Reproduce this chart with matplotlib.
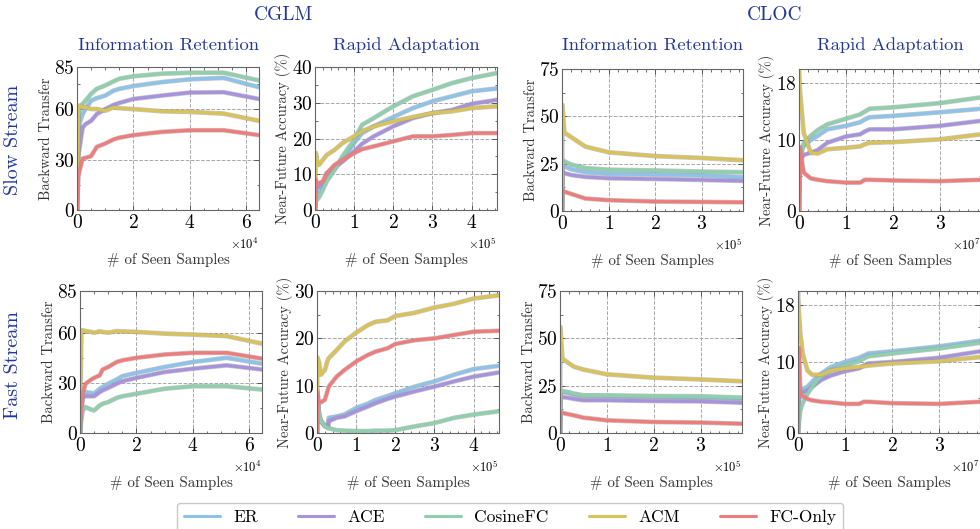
import matplotlib
matplotlib.use('Agg')
import matplotlib.pyplot as plt
import matplotlib.patheffects as pe
from matplotlib.ticker import AutoMinorLocator, FixedLocator, MultipleLocator

plt.rcParams['font.family'] = ['cmr10', 'DejaVu Serif']
plt.rcParams['mathtext.fontset'] = 'cm'
plt.rcParams['axes.formatter.use_mathtext'] = True
plt.rcParams['axes.unicode_minus'] = False

methods = ['ER', 'ACE', 'CosineFC', 'ACM', 'FC-Only']
colors = ['#8ec3e9', '#a793dc', '#8fcfad', '#d8c25a', '#ee7c7c']

# ---- CGLM slow stream, information retention (x in 1e4 samples)
x_cglm_slow_ir = [0, 0.05, 0.1, 0.2, 0.3, 0.5, 0.7, 1.0, 1.3, 1.5, 2.0, 3.0, 4.0, 5.2, 6.45]
cglm_slow_ir = {
    'ER':       [0, 45, 52, 57, 60, 65, 66.5, 68, 71, 72, 73.7, 76, 77.7, 78.5, 73],
    'ACE':      [0, 32, 38, 49, 51, 53, 57, 60, 62.5, 63.6, 66, 68, 69.8, 70, 66],
    'CosineFC': [0, 55, 61, 63, 65, 69, 72, 74, 76.5, 78, 79.5, 81, 81.6, 81.6, 77],
    'ACM':      [0, 62, 62, 61, 61, 60, 60, 59, 61, 60.5, 60, 58.7, 58.3, 57.3, 53],
    'FC-Only':  [0, 20, 24, 30.6, 31, 32, 37.5, 39.5, 42, 43, 44.5, 46.4, 47.4, 47.4, 44.5],
}

# ---- CGLM slow stream, rapid adaptation (x in 1e5 samples)
x_cglm_slow_ra = [0, 0.02, 0.05, 0.1, 0.2, 0.3, 0.5, 0.7, 1.0, 1.2, 1.5, 2.0, 2.5, 3.0, 3.5, 4.0, 4.65]
cglm_slow_ra = {
    'ER':       [0, 6, 6, 5, 7, 10.3, 11.5, 14, 18.7, 21.5, 23.4, 26, 28.5, 30.4, 31.8, 33.2, 34],
    'ACE':      [0, 6.5, 6.5, 6.5, 7.5, 9.8, 12, 13.5, 16.4, 18.5, 20.6, 23.4, 25.7, 27.1, 28, 29.7, 30.8],
    'CosineFC': [0, 3, 2.8, 3.5, 5.6, 8, 11.2, 15, 19.6, 23.8, 25.7, 29, 31.8, 33.6, 35.5, 36.9, 38.3],
    'ACM':      [0, 16, 14, 12.6, 14, 15.4, 16.8, 18.7, 20.6, 22, 23.4, 24.8, 26, 27.1, 27.6, 28.5, 29],
    'FC-Only':  [0, 8.5, 7.5, 7.5, 8, 10.3, 12.6, 14, 15.9, 17, 17.8, 19.2, 20.6, 20.6, 21, 21.5, 21.5],
}

# ---- CLOC slow stream, information retention (x in 1e5 samples)
x_cloc_slow_ir = [0, 0.01, 0.05, 0.2, 0.5, 1.0, 2.0, 3.0, 3.88]
cloc_slow_ir = {
    'ER':       [0, 25, 23.6, 22, 20.5, 19.6, 19.3, 18.8, 17.9],
    'ACE':      [0, 21, 20, 19, 18, 17.3, 16.9, 16.4, 15.9],
    'CosineFC': [0, 27, 26.2, 24.5, 22.7, 21.8, 21.4, 20.8, 20.5],
    'ACM':      [0, 56, 41.4, 39, 34, 31, 29, 28, 26.8],
    'FC-Only':  [0, 11, 10.2, 9, 6.6, 5.7, 5, 4.8, 4.6],
}

# ---- CLOC slow stream, rapid adaptation (x in 1e7 samples)
x_cloc_slow_ra = [0, 0.02, 0.1, 0.25, 0.4, 0.6, 1.0, 1.3, 1.4, 1.5, 2.0, 3.0, 3.87]
cloc_slow_ra = {
    'ER':       [0, 8, 9.2, 10, 10.6, 11.5, 12, 12.5, 12.9, 13.2, 13.4, 13.9, 14.4],
    'ACE':      [0, 7, 7.9, 8.2, 8.6, 9.6, 10.5, 10.8, 11.2, 11.5, 11.5, 12, 12.7],
    'CosineFC': [0, 7, 9.6, 10.6, 11.4, 12.2, 13, 13.6, 14, 14.4, 14.6, 15.2, 16],
    'ACM':      [20, 17, 11, 8.2, 8.1, 8.7, 8.9, 9.1, 9.4, 9.6, 9.7, 10.1, 10.8],
    'FC-Only':  [0, 9, 5.4, 4.6, 4.4, 4.2, 4.0, 4.0, 4.4, 4.4, 4.3, 4.2, 4.4],
}

# ---- CGLM fast stream, information retention (x in 1e4 samples)
x_cglm_fast_ir = [0, 0.05, 0.1, 0.2, 0.4, 0.5, 0.7, 0.8, 1.0, 1.3, 1.5, 2.0, 3.0, 4.0, 5.2, 6.45]
cglm_fast_ir = {
    'ER':       [0, 15, 21.5, 24.5, 24, 23.5, 26.5, 27.5, 29.5, 32, 34, 36, 39.5, 42.5, 45, 41.5],
    'ACE':      [0, 14, 21.5, 22, 22, 22, 24.5, 25.5, 27, 29.5, 31, 33, 36.5, 38.5, 40.5, 38],
    'CosineFC': [0, 9, 13.5, 15.5, 14, 13.5, 16.5, 17.5, 18.5, 21, 22, 23.5, 26.5, 28, 28, 26],
    'ACM':      [0, 61.5, 61.5, 61, 60.5, 60, 60.9, 60.5, 60, 61, 60.8, 60.5, 59.5, 58.9, 58, 53.5],
    'FC-Only':  [0, 18, 24, 29.5, 32, 33, 34.5, 38, 39.5, 42.5, 43.5, 45, 47, 48, 48, 44.5],
}

# ---- CGLM fast stream, rapid adaptation (x in 1e5 samples)
x_cglm_fast_ra = [0, 0.01, 0.05, 0.1, 0.2, 0.28, 0.3, 0.5, 0.7, 1.0, 1.3, 1.5, 1.8, 2.0, 2.5, 3.0, 3.5, 4.0, 4.65]
cglm_fast_ra = {
    'ER':       [0, 8, 4, 2.5, 1.5, 1.2, 3.2, 3.5, 3.9, 5.3, 6.2, 7, 7.8, 8.4, 9.8, 10.9, 12.3, 13.5, 14.2],
    'ACE':      [0, 8, 4, 2.5, 1.5, 1.2, 2.5, 3.2, 3.5, 4.6, 5.6, 6.3, 7.2, 7.7, 8.8, 9.8, 10.9, 11.9, 12.8],
    'CosineFC': [0, 9, 4, 2.5, 1.5, 1.0, 1.0, 0.6, 0.5, 0.4, 0.4, 0.5, 0.5, 0.6, 1.4, 2.1, 3.2, 3.9, 4.6],
    'ACM':      [0, 16, 15, 12.3, 13.3, 15.5, 15.8, 17.5, 19.3, 21.2, 22.8, 23.5, 23.8, 24.7, 25.4, 26.5, 27.3, 28.4, 29.1],
    'FC-Only':  [0, 8.4, 6.3, 6.5, 7, 9.2, 9.8, 11.9, 13.3, 15.1, 16.5, 17.2, 17.9, 18.8, 19.6, 20, 20.7, 21.4, 21.6],
}

# ---- CLOC fast stream, information retention (x in 1e5 samples)
x_cloc_fast_ir = [0, 0.01, 0.05, 0.2, 0.3, 0.5, 1.0, 2.0, 3.0, 3.88]
cloc_fast_ir = {
    'ER':       [0, 22, 21.7, 21, 20.3, 19.5, 19.4, 19, 18.7, 18.1],
    'ACE':      [0, 19.5, 19, 18.5, 18, 17.3, 17.3, 16.9, 16.7, 16],
    'CosineFC': [0, 22.5, 22.2, 21.5, 20.8, 19.9, 19.9, 19.5, 19.4, 18.7],
    'ACM':      [0, 56, 39.3, 36.6, 35, 33.5, 31, 29.2, 28.3, 27.3],
    'FC-Only':  [0, 11, 10.6, 9.8, 9.3, 8.1, 6.7, 5.8, 5.5, 4.9],
}

# ---- CLOC fast stream, rapid adaptation (x in 1e7 samples)
x_cloc_fast_ra = [0, 0.02, 0.05, 0.1, 0.2, 0.3, 0.4, 0.5, 0.7, 1.0, 1.3, 1.4, 1.5, 2.0, 3.0, 3.87]
cloc_fast_ra = {
    'ER':       [0, 5.5, 6, 6.2, 6.5, 7.2, 7.9, 8.4, 9.3, 10, 10.6, 10.9, 11.2, 11.5, 12.2, 13],
    'ACE':      [0, 5, 5.5, 5.7, 6, 6.5, 7, 7.5, 8.1, 8.7, 9.1, 9.5, 9.8, 10, 10.6, 11.5],
    'CosineFC': [0, 1.5, 3.2, 4.2, 5.5, 6.5, 7.4, 8, 8.8, 9.5, 10.1, 10.5, 10.8, 11.2, 11.9, 12.7],
    'ACM':      [20, 17, 14, 11.2, 8.8, 8.2, 8.2, 8.2, 8.8, 9.1, 9.3, 9.4, 9.5, 9.8, 10.1, 10.7],
    'FC-Only':  [0, 12, 5.5, 5.2, 4.8, 4.6, 4.5, 4.4, 4.3, 4.1, 4.1, 4.4, 4.4, 4.2, 4.1, 4.4],
}

# panel specs: x data, series, x scale, xmax, x tick step, ylim, yticks, ylabel
IR_LABEL = 'Backward Transfer'
RA_LABEL = 'Near-Future Accuracy (%)'
panels = [
    (x_cglm_slow_ir, cglm_slow_ir, 1e4, 6.45, 2, 85, [0, 30, 60, 85], IR_LABEL),
    (x_cglm_slow_ra, cglm_slow_ra, 1e5, 4.65, 1, 40, [0, 10, 20, 30, 40], RA_LABEL),
    (x_cloc_slow_ir, cloc_slow_ir, 1e5, 3.88, 1, 75, [0, 25, 50, 75], IR_LABEL),
    (x_cloc_slow_ra, cloc_slow_ra, 1e7, 3.87, 1, 20, [0, 10, 18], RA_LABEL),
    (x_cglm_fast_ir, cglm_fast_ir, 1e4, 6.45, 2, 85, [0, 30, 60, 85], IR_LABEL),
    (x_cglm_fast_ra, cglm_fast_ra, 1e5, 4.65, 1, 30, [0, 10, 20, 30], RA_LABEL),
    (x_cloc_fast_ir, cloc_fast_ir, 1e5, 3.88, 1, 75, [0, 25, 50, 75], IR_LABEL),
    (x_cloc_fast_ra, cloc_fast_ra, 1e7, 3.87, 1, 20, [0, 10, 18], RA_LABEL),
]

# axes boxes in pixels (left, top, right, bottom) on a 980x529 canvas
W, H = 980, 529
boxes = [
    (77, 67, 259, 210), (315, 67, 497, 210), (562, 69, 743, 211), (799, 69, 981, 211),
    (80, 291, 262, 433), (317, 291, 499, 433), (560, 291, 742, 433), (798, 291, 980, 433),
]

TITLE_BLUE = '#22379a'

fig = plt.figure(figsize=(W / 100, H / 100), dpi=100)

lines_for_legend = []
for i, (xs, series, scale, xmax, xstep, ymax, yticks, ylabel) in enumerate(panels):
    l, t, r, b = boxes[i]
    ax = fig.add_axes([l / W, 1 - b / H, (r - l) / W, (b - t) / H])
    for m, c in zip(methods, colors):
        ln, = ax.plot([v * scale for v in xs], series[m], color=c, lw=2.4, label=m,
                      solid_joinstyle='round', solid_capstyle='round',
                      path_effects=[pe.Stroke(linewidth=3.4, foreground='#9a9a9a', alpha=0.55), pe.Normal()])
        if i == 0:
            lines_for_legend.append(ln)
    ax.set_xlim(0, xmax * scale)
    ax.set_ylim(0, ymax)
    ax.xaxis.set_major_locator(MultipleLocator(xstep * scale))
    ax.yaxis.set_major_locator(FixedLocator(yticks))
    ax.xaxis.set_minor_locator(AutoMinorLocator(4 if xstep == 2 else 5))
    ax.yaxis.set_minor_locator(AutoMinorLocator(2))
    ax.ticklabel_format(axis='x', style='sci', scilimits=(0, 0))
    ax.xaxis.get_offset_text().set_fontsize(9)
    ax.xaxis.get_offset_text().set_color('#444444')
    ax.tick_params(which='both', direction='in', top=True, right=True, colors='#555555',
                   labelcolor='black', labelsize=14)
    ax.tick_params(which='major', length=3.5, width=0.7, pad=3)
    ax.tick_params(which='minor', length=1.8, width=0.6)
    ax.tick_params(axis='y', pad=1.5)
    ax.grid(True, which='major', linestyle='--', color='#a8a8a8', lw=0.7)
    for s in ax.spines.values():
        s.set_color('#666666')
        s.set_linewidth(0.8)
    ax.set_ylabel(ylabel, fontsize=10.5, color='#333333', labelpad=1)
    ax.set_xlabel('# of Seen Samples', fontsize=10.8, color='#333333', labelpad=15)

# group titles and column titles
fig.text(283 / W, 1 - 15 / H, 'CGLM', fontsize=14, color=TITLE_BLUE, ha='center', va='center')
fig.text(775 / W, 1 - 15 / H, 'CLOC', fontsize=14, color=TITLE_BLUE, ha='center', va='center')
col_titles = ['Information Retention', 'Rapid Adaptation', 'Information Retention', 'Rapid Adaptation']
for j, name in enumerate(col_titles):
    l, t, r, b = boxes[j]
    fig.text((l + r) / 2 / W, 1 - 45 / H, name, fontsize=13.4, color=TITLE_BLUE, ha='center', va='center')

fig.text(13 / W, 1 - 140 / H, 'Slow Stream', fontsize=14.5, color=TITLE_BLUE, rotation=90, ha='center', va='center')
fig.text(13 / W, 1 - 365 / H, 'Fast Stream', fontsize=14.5, color=TITLE_BLUE, rotation=90, ha='center', va='center')

leg = fig.legend(lines_for_legend, methods, loc='upper center', bbox_to_anchor=(510 / W, 1 - 494 / H),
                 ncol=5, fontsize=12.5, handlelength=2.1, handletextpad=0.75, columnspacing=2.3,
                 frameon=True, fancybox=True, edgecolor='#bbbbbb', borderpad=0.4)
for h in leg.get_lines():
    h.set_path_effects([])
    h.set_linewidth(2.2)

fig.savefig('out.png', dpi=100)
